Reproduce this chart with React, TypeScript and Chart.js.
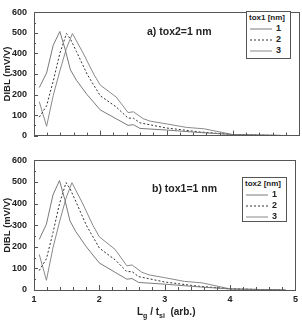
import React, { useEffect, useRef } from "react";
import { Chart, registerables } from "chart.js";
Chart.register(...registerables);

// Lg / tsi positions and DIBL values (mV/V)
const lg1 = [1.08, 1.19, 1.29, 1.39, 1.47, 1.55, 1.64, 1.8, 2.0, 2.24, 2.42, 2.5, 2.6, 3.0, 3.5, 4.0, 4.5, 4.85];
const dibl1 = [234, 305, 440, 507, 420, 320, 270, 200, 125, 82, 50, 53, 35, 27, 15, 5, 2, 0];

const lg2 = [1.08, 1.19, 1.29, 1.39, 1.49, 1.55, 1.64, 1.8, 2.0, 2.24, 2.42, 2.5, 2.6, 3.0, 3.5, 4.0, 4.5, 4.85];
const dibl2 = [90, 145, 265, 400, 497, 470, 410, 300, 194, 140, 85, 85, 62, 37, 18, 5, 2, 0];

const lg3 = [1.08, 1.19, 1.29, 1.39, 1.49, 1.58, 1.74, 1.9, 2.0, 2.24, 2.42, 2.5, 2.65, 2.76, 3.0, 3.3, 3.57, 4.0, 4.5, 4.85];
const dibl3 = [165, 45, 195, 315, 425, 497, 403, 300, 246, 188, 112, 116, 82, 70, 57, 40, 33, 5, 2, 0];

const seriesLabels = ["1", "2", "3"];
const xTicks = [1, 2, 3, 4, 5];
const yTicks = [0, 100, 200, 300, 400, 500, 600];

const FONT = '"Liberation Sans", Arial, sans-serif';
const C1 = "#7a7a7a";
const C2 = "#333";
const C3 = "#8a8a8a";

const toPts = (xs: number[], ys: number[]) => xs.map((x, i) => ({ x, y: ys[i] }));

const framePlugin = {
  id: "frame",
  afterDraw(chart: any) {
    const { ctx, chartArea: a, scales } = chart;
    ctx.save();
    ctx.strokeStyle = "#555";
    ctx.lineWidth = 1;
    ctx.strokeRect(Math.round(a.left) + 0.5, Math.round(a.top) + 0.5, Math.round(a.right - a.left), Math.round(a.bottom - a.top));
    const xs = scales.x, ys = scales.y;
    ctx.beginPath();
    for (let v = 1; v <= 5.0001; v += 0.2) {
      const px = Math.round(xs.getPixelForValue(v)) + 0.5;
      const major = Math.abs(v - Math.round(v)) < 1e-6;
      const len = major ? 5 : 3;
      ctx.moveTo(px, a.bottom);
      ctx.lineTo(px, a.bottom - len);
    }
    for (let v = 0; v <= 600; v += 50) {
      const py = Math.round(ys.getPixelForValue(v)) + 0.5;
      const len = v % 100 === 0 ? 4 : 2;
      ctx.moveTo(a.left, py);
      ctx.lineTo(a.left + len, py);
    }
    ctx.stroke();
    ctx.restore();
  },
};

function Panel(props: { height: number; padTop: number; xHeight: number; showX: boolean }) {
  const ref = useRef<HTMLCanvasElement>(null);
  useEffect(() => {
    const common = { borderWidth: 1, pointRadius: 0, tension: 0, fill: false };
    const chart = new Chart(ref.current as HTMLCanvasElement, {
      type: "line",
      data: {
        datasets: [
          { label: seriesLabels[0], data: toPts(lg1, dibl1), borderColor: C1, ...common },
          { label: seriesLabels[1], data: toPts(lg2, dibl2), borderColor: C2, borderDash: [2, 2], ...common },
          { label: seriesLabels[2], data: toPts(lg3, dibl3), borderColor: C3, ...common },
        ],
      },
      options: {
        animation: false,
        responsive: true,
        maintainAspectRatio: false,
        layout: { padding: { top: props.padTop, right: 3, left: 0, bottom: 0 } },
        plugins: { legend: { display: false }, tooltip: { enabled: false } },
        scales: {
          x: {
            type: "linear",
            min: 1,
            max: 5,
            afterBuildTicks: (s: any) => { s.ticks = xTicks.map((v) => ({ value: v })); },
            afterFit: (s: any) => { s.height = props.xHeight; },
            grid: { display: false, drawTicks: false },
            border: { display: false },
            ticks: {
              display: props.showX,
              padding: 4,
              color: "#222",
              maxRotation: 0,
              font: { family: FONT, size: 9, weight: "bold" },
            },
          },
          y: {
            type: "linear",
            min: 0,
            max: 600,
            afterBuildTicks: (s: any) => { s.ticks = yTicks.map((v) => ({ value: v })); },
            afterFit: (s: any) => { s.width = 34; },
            grid: { display: false, drawTicks: false },
            border: { display: false },
            ticks: { padding: 7, color: "#222", font: { family: FONT, size: 9, weight: "bold" } },
            title: {
              display: true,
              text: "DIBL (mV/V)",
              color: "#222",
              padding: { top: 2, bottom: 0 },
              font: { family: FONT, size: 9.5, weight: "bold" },
            },
          },
        },
      },
      plugins: [framePlugin],
    } as any);
    return () => chart.destroy();
  }, []);
  return (
    <div style={{ position: "relative", width: 302, height: props.height }}>
      <canvas ref={ref} />
    </div>
  );
}

function Legend(props: { left: number; top: number; width: number; height: number; title: string }) {
  const rows = [
    { label: seriesLabels[0], color: C1, dash: "" },
    { label: seriesLabels[1], color: C2, dash: "2 2" },
    { label: seriesLabels[2], color: C3, dash: "" },
  ];
  return (
    <div
      style={{
        position: "absolute",
        left: props.left,
        top: props.top,
        width: props.width,
        height: props.height,
        border: "1px solid #555",
        boxSizing: "border-box",
        background: "#fff",
        fontFamily: FONT,
        fontWeight: "bold",
        color: "#222",
      }}
    >
      <div style={{ fontSize: 8, lineHeight: "10px", paddingLeft: 2, paddingTop: 1, whiteSpace: "nowrap" }}>{props.title}</div>
      {rows.map((r, i) => (
        <div key={i} style={{ display: "flex", alignItems: "center", height: 11, paddingLeft: 3 }}>
          <svg width={22} height={4} style={{ display: "block" }}>
            <line x1={0} y1={2} x2={22} y2={2} stroke={r.color} strokeWidth={1} strokeDasharray={r.dash} />
          </svg>
          <span style={{ fontSize: 9, marginLeft: 4, lineHeight: "11px" }}>{r.label}</span>
        </div>
      ))}
    </div>
  );
}

export default function App() {
  const txt: React.CSSProperties = {
    position: "absolute",
    fontFamily: FONT,
    fontWeight: "bold",
    fontSize: 10.5,
    color: "#222",
    whiteSpace: "nowrap",
    lineHeight: "12px",
  };
  return (
    <div style={{ position: "fixed", left: 0, top: 0, width: 302, height: 321, background: "#fff" }}>
      <div style={{ position: "absolute", left: 0, top: 0 }}>
        <Panel height={148} padTop={6} xHeight={8} showX={false} />
      </div>
      <div style={{ position: "absolute", left: 0, top: 148 }}>
        <Panel height={173} padTop={8} xHeight={31} showX={true} />
      </div>
      <div style={{ ...txt, left: 147, top: 25 }}>a) tox2=1 nm</div>
      <div style={{ ...txt, left: 152, top: 182 }}>b) tox1=1 nm</div>
      <Legend left={246} top={11} width={45} height={48} title="tox1 [nm]" />
      <Legend left={242} top={177} width={45} height={45} title="tox2 [nm]" />
      <div style={{ ...txt, left: 137, top: 306, fontSize: 10 }}>
        L<sub style={{ fontSize: 7 }}>g</sub> / t<sub style={{ fontSize: 7 }}>si</sub>&nbsp; (arb.)
      </div>
    </div>
  );
}
